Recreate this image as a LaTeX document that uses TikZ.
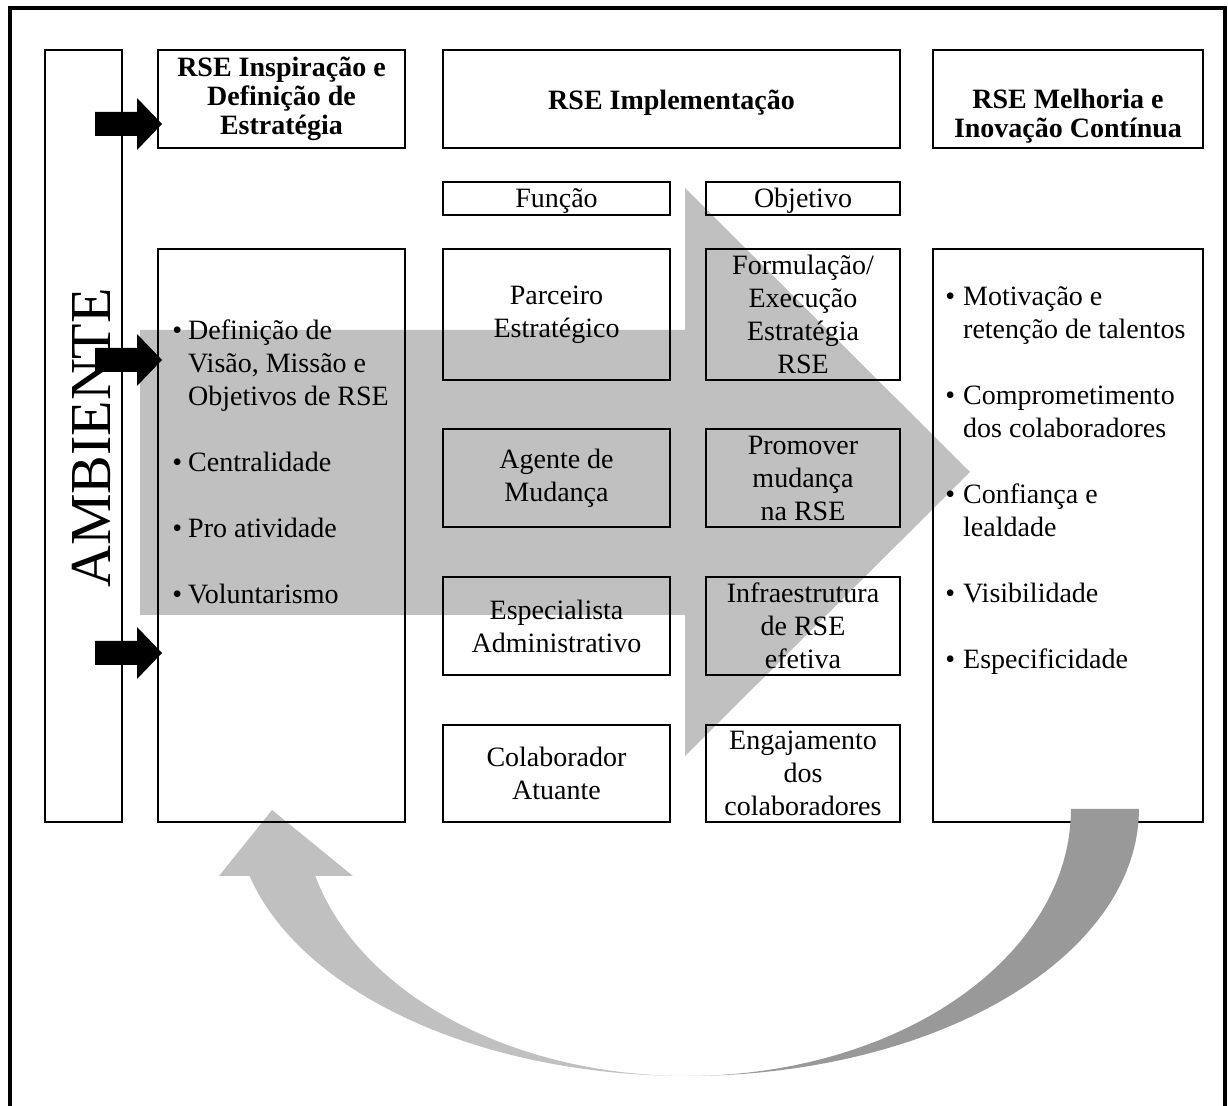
\documentclass[tikz,border=0pt]{standalone}
\usepackage{fontspec}
\setmainfont{Liberation Serif}
\definecolor{cinzaclaro}{HTML}{C0C0C0}
\definecolor{cinzaescuro}{HTML}{999999}

\begin{document}
\begin{tikzpicture}[x=0.5pt,y=-0.5pt,
    caixa/.style 2 args={draw,line width=1.3pt,minimum width=#1*0.5pt,minimum height=#2*0.5pt,inner sep=0pt,align=center},
    texto/.style={font=\fontsize{14}{16.5}\selectfont},
    titulo/.style={font=\fontsize{14}{14.5}\selectfont\bfseries}]
    \useasboundingbox (0,0) rectangle (1228,1106);
    \draw[line width=1.6pt] (10,1120) -- (10,8) -- (1225,8) -- (1225,1120); %moldura
    \fill[cinzaclaro] (140,330) -- (685,330) -- (685,188) -- (970,472) -- (685,756) -- (685,615) -- (140,615) -- cycle; %seta grande
    \fill[cinzaclaro] (687,1076) -- plot[domain=90:165.5,samples=40] ({687+452*cos(\x)},{809+267*sin(\x)})
      -- (219,876) -- (272,810) -- (353,876)
      -- plot[domain=165.5:90,samples=40] ({687+384*cos(\x)},{809+267*sin(\x)}) -- cycle; %seta curva, lado esquerdo
    % coluna ambiente
    \node[caixa={77}{772}] (amb) at (83.5,436) {};
    \node[rotate=90,font=\fontsize{29}{29}\selectfont] (ambtxt) at (91,438) {AMBIENTE};
    % titulos
    \node[caixa={247}{98},titulo] (insp) at (281.5,99) {RSE Inspiração e\\Definição de\\Estratégia};
    \node[caixa={457}{98},titulo] (impl) at (671.5,99) {\rule{0pt}{13pt}RSE Implementação};
    \node[caixa={270}{98},titulo] (melh) at (1068,99) {\rule{0pt}{27pt}RSE Melhoria e\\Inovação Contínua};
    \node[caixa={227}{33},texto] (funcao) at (556.5,198.5) {\rule{0pt}{12pt}Função};
    \node[caixa={194}{33},texto] (objetivo) at (803,198.5) {\rule{0pt}{12pt}Objetivo};
    % caixas grandes
    \node[caixa={247}{573}] (defin) at (281.5,535.5) {};
    \node[caixa={270}{573}] (result) at (1068,535.5) {};
    \node[texto,anchor=base west,inner sep=0pt] (listadef) at (172,340) {\begin{tabular}[t]{@{}l@{\hspace{3pt}}l@{}}
      \textbullet & Definição de\\ & Visão, Missão e\\ & Objetivos de RSE\\ & \\
      \textbullet & Centralidade\\ & \\ \textbullet & Pro atividade\\ & \\ \textbullet & Voluntarismo
      \end{tabular}};
    \node[texto,anchor=base west,inner sep=0pt] (listares) at (945,306) {\begin{tabular}[t]{@{}l@{\hspace{4pt}}l@{}}
      \textbullet & Motivação e\\ & retenção de talentos\\ & \\
      \textbullet & Comprometimento\\ & dos colaboradores\\ & \\
      \textbullet & Confiança e\\ & lealdade\\ & \\
      \textbullet & Visibilidade\\ & \\ \textbullet & Especificidade
      \end{tabular}};
    % funcao
    \node[caixa={227}{131},texto] (parceiro) at (556.5,314.5) {Parceiro\\Estratégico};
    \node[caixa={227}{98},texto] (agente) at (556.5,478) {Agente de\\Mudança};
    \node[caixa={227}{98},texto] (especialista) at (556.5,626) {Especialista\\Administrativo};
    \node[caixa={227}{97},texto] (colaborador) at (556.5,773.5) {Colaborador\\Atuante};
    % objetivo
    \node[caixa={194}{131},texto] (formulacao) at (803,314.5) {Formulação/\\Execução\\Estratégia\\RSE};
    \node[caixa={194}{98},texto] (promover) at (803,478) {Promover\\mudança\\na RSE};
    \node[caixa={194}{98},texto] (infra) at (803,626) {Infraestrutura\\de RSE\\efetiva};
    \node[caixa={194}{97},texto] (engajamento) at (803,773.5) {Engajamento\\dos\\colaboradores};
    \fill[cinzaescuro] (1139,809) -- plot[domain=0:90,samples=40] ({687+452*cos(\x)},{809+267*sin(\x)})
      -- plot[domain=90:0,samples=40] ({687+384*cos(\x)},{809+267*sin(\x)}) -- cycle; %seta curva, lado direito
    \foreach \yy in {124,360,653}
      \fill (95,{\yy-12}) -- (137,{\yy-12}) -- (137,{\yy-26}) -- (162,\yy) -- (137,{\yy+26}) -- (137,{\yy+12}) -- (95,{\yy+12}) -- cycle; %setas do ambiente
\end{tikzpicture}
\end{document}
